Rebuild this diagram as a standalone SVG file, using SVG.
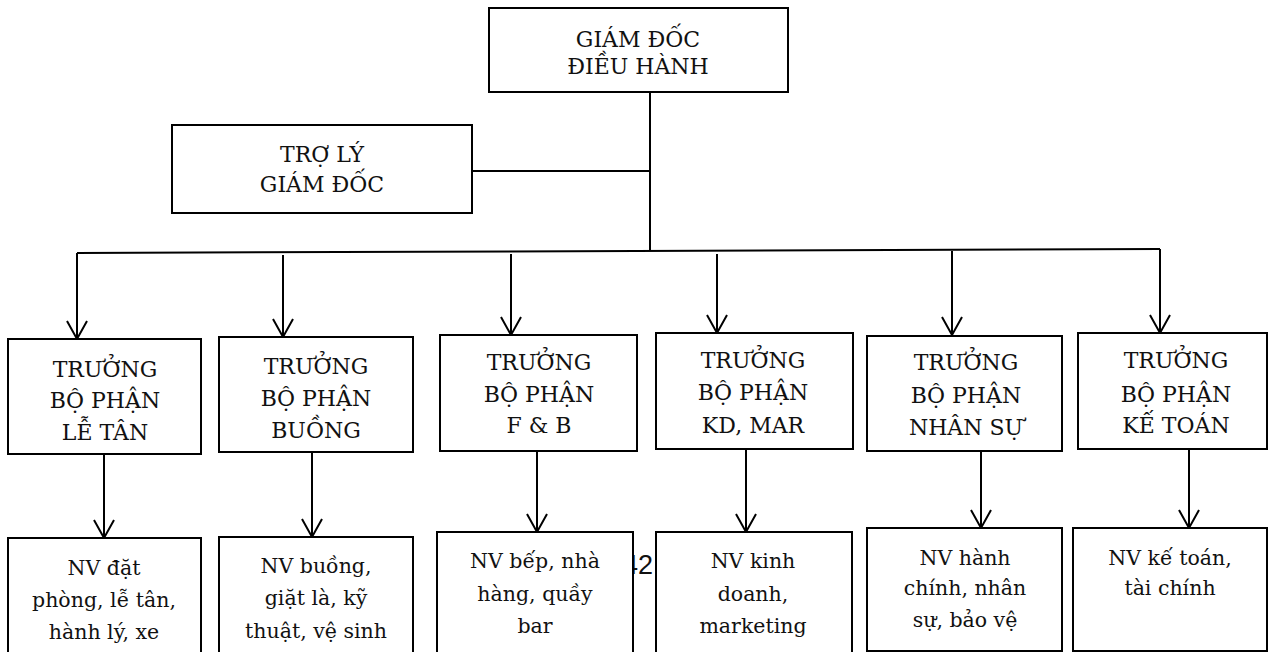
<svg xmlns="http://www.w3.org/2000/svg" width="1269" height="652" viewBox="0 0 1269 652">
<style>
.box{fill:#fff;stroke:#000;stroke-width:2}
.t{font-family:'DejaVu Serif',serif;font-size:22px;fill:#111;text-anchor:middle}
.s{font-family:'DejaVu Serif',serif;font-size:20.5px;fill:#111;text-anchor:middle}
.ln{fill:none;stroke:#000;stroke-width:2}
.ar{fill:none;stroke:#000;stroke-width:2;marker-end:url(#v)}
</style>
<defs>
<marker id="v" markerUnits="userSpaceOnUse" markerWidth="22" markerHeight="24" refX="18" refY="11" orient="auto" overflow="visible">
<path d="M0,1 L18,11 L0,21" fill="none" stroke="#000" stroke-width="2"/>
</marker>
</defs>
<rect width="1269" height="652" fill="#fff"/>
<text x="638" y="574" font-family="Liberation Sans, Arial, sans-serif" font-size="27" fill="#111" text-anchor="middle">42</text>
<g id="connectors">
<line class="ln" x1="650" y1="92" x2="650" y2="251"/>
<line class="ln" x1="472" y1="171" x2="650" y2="171"/>
<polyline class="ln" points="77,253 1160,249"/>
<line class="ar" x1="77" y1="253" x2="77" y2="339"/>
<line class="ar" x1="283" y1="255" x2="283" y2="337"/>
<line class="ar" x1="511" y1="254" x2="511" y2="335"/>
<line class="ar" x1="717" y1="254" x2="717" y2="333"/>
<line class="ar" x1="952" y1="251" x2="952" y2="335"/>
<line class="ar" x1="1160" y1="249" x2="1160" y2="333"/>
<line class="ar" x1="104" y1="454" x2="104" y2="538"/>
<line class="ar" x1="312" y1="452" x2="312" y2="537"/>
<line class="ar" x1="537" y1="451" x2="537" y2="532"/>
<line class="ar" x1="746" y1="449" x2="746" y2="532"/>
<line class="ar" x1="981" y1="451" x2="981" y2="528"/>
<line class="ar" x1="1189" y1="449" x2="1189" y2="528"/>
</g>
<g id="ceo"><rect class="box" x="489" y="8" width="299" height="84"/>
<text class="t" x="638" y="47">GIÁM ĐỐC</text><text class="t" x="638" y="74">ĐIỀU HÀNH</text></g>
<g id="assistant"><rect class="box" x="172" y="125" width="300" height="88"/>
<text class="t" x="322" y="162">TRỢ LÝ</text><text class="t" x="322" y="192">GIÁM ĐỐC</text></g>
<g id="head-le-tan"><rect class="box" x="8" y="339" width="193" height="115"/>
<text class="t" x="105" y="377">TRƯỞNG</text><text class="t" x="105" y="408">BỘ PHẬN</text><text class="t" x="105" y="440">LỄ TÂN</text></g>
<g id="head-buong"><rect class="box" x="219" y="337" width="194" height="115"/>
<text class="t" x="316" y="374">TRƯỞNG</text><text class="t" x="316" y="406">BỘ PHẬN</text><text class="t" x="316" y="438">BUỒNG</text></g>
<g id="head-fb"><rect class="box" x="440" y="335" width="197" height="116"/>
<text class="t" x="539" y="370">TRƯỞNG</text><text class="t" x="539" y="402">BỘ PHẬN</text><text class="t" x="539" y="433">F &amp; B</text></g>
<g id="head-kd"><rect class="box" x="656" y="333" width="197" height="116"/>
<text class="t" x="753" y="368">TRƯỞNG</text><text class="t" x="753" y="400">BỘ PHẬN</text><text class="t" x="753" y="433">KD, MAR</text></g>
<g id="head-ns"><rect class="box" x="867" y="336" width="195" height="115"/>
<text class="t" x="966" y="370">TRƯỞNG</text><text class="t" x="966" y="403">BỘ PHẬN</text><text class="t" x="966" y="435">NHÂN SỰ</text></g>
<g id="head-kt"><rect class="box" x="1078" y="333" width="189" height="116"/>
<text class="t" x="1176" y="368">TRƯỞNG</text><text class="t" x="1176" y="402">BỘ PHẬN</text><text class="t" x="1176" y="433">KẾ TOÁN</text></g>
<g id="staff-le-tan"><rect class="box" x="8" y="538" width="193" height="130"/>
<text class="s" x="104" y="575">NV đặt</text><text class="s" x="104" y="607">phòng, lễ tân,</text><text class="s" x="104" y="639">hành lý, xe</text></g>
<g id="staff-buong"><rect class="box" x="219" y="537" width="194" height="130"/>
<text class="s" x="316" y="573">NV buồng,</text><text class="s" x="316" y="605">giặt là, kỹ</text><text class="s" x="316" y="638">thuật, vệ sinh</text></g>
<g id="staff-fb"><rect class="box" x="437" y="532" width="196" height="130"/>
<text class="s" x="535" y="568">NV bếp, nhà</text><text class="s" x="535" y="601">hàng, quầy</text><text class="s" x="535" y="633">bar</text></g>
<g id="staff-kd"><rect class="box" x="656" y="532" width="196" height="130"/>
<text class="s" x="753" y="568">NV kinh</text><text class="s" x="753" y="601">doanh,</text><text class="s" x="753" y="633">marketing</text></g>
<g id="staff-ns"><rect class="box" x="867" y="528" width="195" height="123"/>
<text class="s" x="965" y="565">NV hành</text><text class="s" x="965" y="595">chính, nhân</text><text class="s" x="965" y="627">sự, bảo vệ</text></g>
<g id="staff-kt"><rect class="box" x="1073" y="528" width="194" height="123"/>
<text class="s" x="1170" y="565">NV kế toán,</text><text class="s" x="1170" y="595">tài chính</text></g>
</svg>
